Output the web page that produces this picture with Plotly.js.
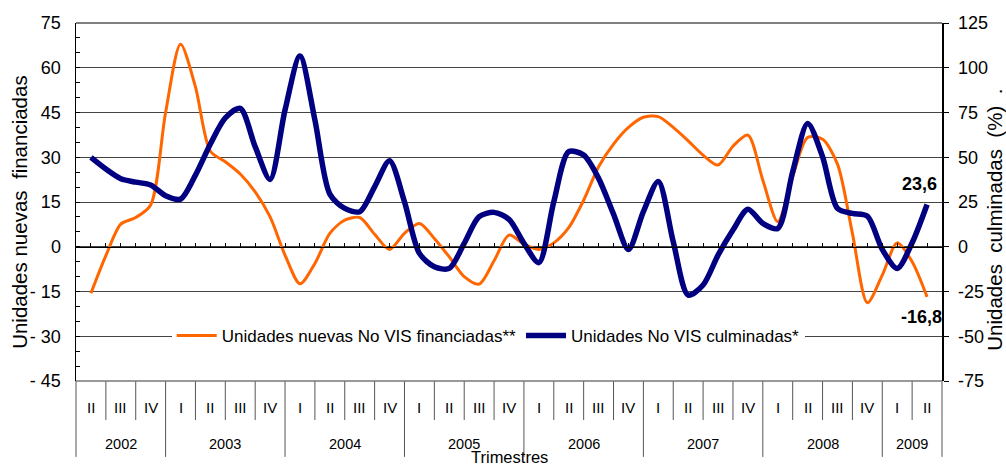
<!DOCTYPE html>
<html>
<head>
<meta charset="utf-8">
<script src="https://cdn.plot.ly/plotly-3.0.1.min.js"></script>
<style>html,body{margin:0;padding:0;background:#fff;}#chart{width:1006px;height:470px;}</style>
</head>
<body>
<div id="chart"></div>
<script>
const quarterLabels = ['II','III','IV','I','II','III','IV','I','II','III','IV','I','II','III','IV','I','II','III','IV','I','II','III','IV','I','II','III','IV','I','II'];
const years = ['2002','2003','2004','2005','2006','2007','2008','2009'];
const quartersPerYear = [3,4,4,4,4,4,4,2];
const samplesPerQuarter = 2;

// Unidades nuevas No VIS financiadas** (left axis)
const nuevasFinanciadas = [-15.6,-3.0,7.6,9.8,14.0,45.0,67.9,53.6,32.0,28.5,24.4,18.4,10.0,-2.8,-12.4,-5.6,4.5,8.9,9.8,4.2,-0.9,4.5,7.8,2.8,-3.4,-10.0,-12.5,-4.7,3.9,0.9,-0.9,1.3,6.4,15.6,26.8,34.4,40.0,43.4,43.6,40.0,35.5,30.7,27.4,33.7,37.4,22.3,8.4,23.5,36.6,36.0,27.7,4.5,-18.8,-9.5,1.3,-5.0,-16.8];
// Unidades No VIS culminadas* (right axis, %)
const culminadas = [49.9,43.4,38.0,36.1,34.5,28.5,26.6,40.0,57.4,72.0,77.3,55.9,37.6,76.4,106.5,70.8,29.4,21.4,19.6,33.5,48.0,25.1,-3.7,-11.2,-12.1,1.9,16.8,19.2,15.3,1.9,-8.9,25.1,53.1,51.2,38.2,18.2,-1.5,19.6,36.5,2.8,-27.0,-21.4,-4.7,9.3,20.9,13.0,10.2,41.9,68.9,50.3,21.4,18.6,17.1,-1.5,-12.1,2.2,23.6];

const leftTickVals = [75,60,45,30,15,0,-15,-30,-45];
const leftTickText = ['75','60','45','30','15','0','- 15','- 30','- 45'];
const rightTickVals = [125,100,75,50,25,0,-25,-50,-75];
const rightTickText = ['125','100','75','50','25','0','-25','-50','-75'];

// ---- Build ----
const xs = nuevasFinanciadas.map((_, i) => i / samplesPerQuarter);
const nQ = quarterLabels.length;
const xmin = -0.5, xmax = nQ - 0.5;
const toPaperX = v => (v - xmin) / (xmax - xmin);
const FONT = 'Liberation Sans, Arial, sans-serif';

const traces = [
  {x: xs, y: nuevasFinanciadas, type: 'scatter', mode: 'lines', name: 'Unidades nuevas No VIS financiadas**',
   line: {color: '#FF6600', width: 3, shape: 'spline', smoothing: 0.8}, yaxis: 'y'},
  {x: xs, y: culminadas, type: 'scatter', mode: 'lines', name: 'Unidades No VIS culminadas*',
   line: {color: '#000080', width: 5.5, shape: 'spline', smoothing: 0.8}, yaxis: 'y2'}
];

const shapes = [];
const annotations = [];
// table lines under the plot
const yearBounds = new Set();
let acc = 0;
quartersPerYear.forEach(n => { yearBounds.add(acc); acc += n; });
yearBounds.add(acc);
for (let b = 0; b <= nQ; b++) {
  const isYear = yearBounds.has(b);
  shapes.push({type: 'line', xref: 'paper', yref: 'paper', x0: toPaperX(b - 0.5), x1: toPaperX(b - 0.5),
    y0: 0, y1: isYear ? -0.212 : -0.109, line: {color: '#555', width: 1}});
}
shapes.push({type: 'line', xref: 'paper', yref: 'paper', x0: 0, x1: 1, y0: 0, y1: 0, line: {color: '#777', width: 1.5}});
shapes.push({type: 'line', xref: 'paper', yref: 'paper', x0: 0, x1: 1, y0: 1, y1: 1, line: {color: '#808080', width: 2}});

quarterLabels.forEach((q, i) => {
  annotations.push({x: i, xref: 'x', y: -0.075, yref: 'paper', text: q, showarrow: false,
    xanchor: 'center', yanchor: 'middle', font: {family: FONT, size: 15, color: '#000'}});
});
acc = 0;
years.forEach((yr, j) => {
  const c = acc + (quartersPerYear[j] - 1) / 2;
  acc += quartersPerYear[j];
  annotations.push({x: c, xref: 'x', y: -0.176, yref: 'paper', text: yr, showarrow: false,
    xanchor: 'center', yanchor: 'middle', font: {family: FONT, size: 14.5, color: '#000'}});
});
annotations.push({x: 0.5, xref: 'paper', y: -0.243, yref: 'paper', text: 'Trimestres', showarrow: false,
  xanchor: 'center', yanchor: 'bottom', font: {family: FONT, size: 16.5, color: '#000'}});
annotations.push({x: -0.066, xref: 'paper', y: 0.472, yref: 'paper', text: 'Unidades nuevas \u00a0financiadas',
  textangle: -90, showarrow: false, xanchor: 'center', yanchor: 'middle', font: {family: FONT, size: 20.5, color: '#000'}});
annotations.push({x: 1.061, xref: 'paper', y: 0.45, yref: 'paper', text: 'Unidades \u00a0culminadas \u00a0(%) \u00a0.',
  textangle: -90, showarrow: false, xanchor: 'center', yanchor: 'middle', font: {family: FONT, size: 20.5, color: '#000'}});

const fmt = v => String(v).replace('.', ',');
const lastI = xs.length - 1;
annotations.push({x: xs[lastI], xref: 'x', y: culminadas[lastI], yref: 'y2', text: '<b>' + fmt(culminadas[lastI]) + '</b>',
  showarrow: false, xshift: -8, yshift: 21, font: {family: FONT, size: 18, color: '#000'}});
annotations.push({x: xs[lastI], xref: 'x', y: nuevasFinanciadas[lastI], yref: 'y', text: '<b>' + fmt(nuevasFinanciadas[lastI]) + '</b>',
  showarrow: false, xshift: -6, yshift: -20, font: {family: FONT, size: 18, color: '#000'}});

const layout = {
  width: 1006, height: 470,
  margin: {l: 76, r: 64, t: 23, b: 89, pad: 0},
  paper_bgcolor: '#fff', plot_bgcolor: '#fff',
  font: {family: FONT, size: 17, color: '#000'},
  showlegend: true,
  legend: {orientation: 'h', x: 0.476, xanchor: 'center', y: 0.126, yanchor: 'middle',
    bgcolor: '#fff', font: {family: FONT, size: 17, color: '#000'}, itemwidth: 40, tracegroupgap: 0},
  xaxis: {range: [xmin, xmax], anchor: 'free', position: 0.375, showline: true, linecolor: '#000', linewidth: 1.5,
    ticks: 'inside', ticklen: 4, tickcolor: '#000', tick0: 0, dtick: 0.5, showticklabels: false,
    showgrid: false, zeroline: false, fixedrange: true},
  yaxis: {range: [-45, 75], tickvals: leftTickVals, ticktext: leftTickText, showgrid: true, gridcolor: '#444', gridwidth: 1,
    zeroline: false, showline: true, linecolor: '#000', linewidth: 1.5, ticks: 'inside', ticklen: 4, tickcolor: '#000',
    minor: {dtick: 5, ticks: 'inside', ticklen: 4, tickcolor: '#000', showgrid: false},
    ticklabelstandoff: 10, tickfont: {family: FONT, size: 18, color: '#000'}},
  yaxis2: {range: [-75, 125], tickvals: rightTickVals, ticktext: rightTickText, overlaying: 'y', side: 'right',
    showgrid: false, zeroline: false, showline: true, linecolor: '#000', linewidth: 1.5, ticks: 'outside', ticklen: 5,
    tickcolor: '#000', ticklabelstandoff: 6, tickfont: {family: FONT, size: 18, color: '#000'}},
  shapes: shapes,
  annotations: annotations
};

Plotly.newPlot('chart', traces, layout, {staticPlot: true, displayModeBar: false});
</script>
</body>
</html>
